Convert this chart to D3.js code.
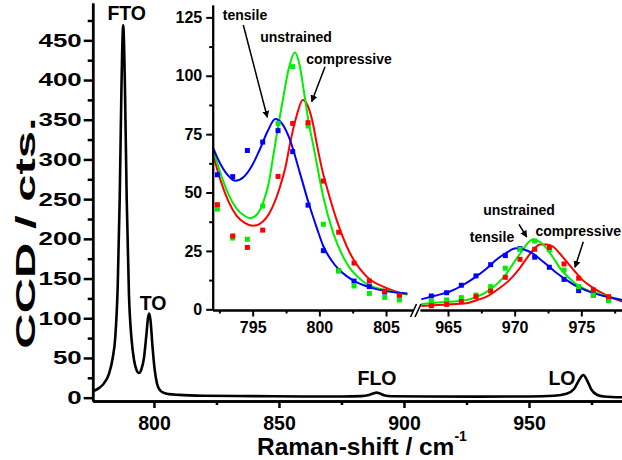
<!DOCTYPE html>
<html>
<head>
<meta charset="utf-8">
<script src="https://cdn.jsdelivr.net/npm/d3@7"></script>
<style>
  body { margin: 0; background: #fff; }
  text { font-family: "Liberation Sans", Arial, sans-serif; font-weight: bold; fill: #000; }
</style>
</head>
<body>
<div class="draw"></div>
<script>
const width = 622
const height = 460

// main spectrum, [Raman shift, counts]
const spectrum = [
  [775.5, 8], [778, 12], [780, 18], [782, 30], [783.5, 50], [784.5, 75], [785.5, 140],
  [786.3, 250], [787, 390], [787.7, 469], [788.4, 390], [789.1, 250], [790, 130],
  [791, 75], [792, 48], [793, 35], [794, 31], [795, 36], [796, 50], [797, 80],
  [797.6, 100], [798.1, 106], [798.6, 98], [799.4, 65], [800.3, 35], [801.2, 18],
  [802.5, 9], [804, 6], [806, 4.5], [810, 3.5], [820, 2.5], [840, 2], [860, 1.5],
  [875, 1.5], [883, 2], [886, 3.5], [888, 5.5], [889, 6.3], [890.2, 5.5], [892, 3],
  [895, 1.8], [910, 1.5], [930, 1.3], [950, 1.5], [960, 2.5], [965, 5], [968, 11],
  [970, 22], [971.7, 28.5], [973.5, 20], [975, 10], [977, 4], [980, 1.5], [987.2, 0.5]
]
const peakLabels = ["FTO", "TO", "FLO", "LO"]

// inset, left window (TO region)
const leftX = [792.35, 793.5, 794.6, 795.75, 796.9, 798.0, 799.15, 800.3, 801.45, 802.6, 803.75, 804.9, 806.0]
const leftTensile = [57.6, 56.8, 68, 71.6, 76.5, 67.5, 44.6, 25.1, 16.5, 12.1, 9.7, 7.4, 6.3]
const leftUnstrained = [42.9, 30.5, 30.0, 44.2, 79.6, 103.9, 78.5, 36.4, 16.5, 10, 6.8, 5.1, 4.0]
const leftCompressive = [44.8, 31.4, 26.5, 33.9, 56.9, 79.6, 79.9, 54.9, 33.0, 19.8, 12.1, 7.8, 6.0]

const leftFitTensile = [
  [792.0, 69.6], [792.6, 62], [793.2, 57], [793.7, 55], [794.3, 56.5], [794.9, 61], [795.5, 68],
  [796.1, 76], [796.7, 81.5], [797.2, 79.5], [797.8, 72.5], [798.55, 58.2], [799.2, 45.4],
  [799.8, 35], [800.3, 27], [800.9, 21], [801.5, 16.8], [802.1, 14], [802.7, 11.8],
  [803.8, 9.4], [804.8, 8.0], [806.6, 6.8]
]
const leftFitUnstrained = [
  [792.0, 69], [792.6, 58], [793.2, 49], [793.8, 43], [794.4, 40], [794.8, 39], [795.3, 40.5],
  [795.8, 46], [796.2, 54], [796.55, 66], [796.9, 78], [797.3, 91], [797.7, 103], [798.17, 110],
  [798.5, 105], [798.9, 91], [799.2, 80], [799.55, 70], [800.3, 48], [801.05, 32.5],
  [802.05, 19.7], [803.3, 11.8], [804.8, 8.4], [806.6, 6.5]
]
const leftFitCompressive = [
  [792.0, 67], [792.6, 55], [793.2, 46], [793.8, 40], [794.4, 37], [795.0, 35.8], [795.5, 36.5],
  [796.0, 39], [796.5, 44], [797.05, 52.5], [797.5, 62], [797.8, 71], [798.3, 83], [798.75, 89.6],
  [799.1, 87.5], [799.5, 80], [799.8, 71], [800.2, 60], [800.55, 52.5], [801.3, 38.2],
  [802.3, 24], [803.55, 14], [805.05, 9.1], [806.6, 6.3]
]

// inset, right window (LO region)
const rightX = [963.75, 964.9, 966.0, 967.1, 968.2, 969.3, 970.4, 971.5, 972.6, 973.7, 974.8, 975.9, 977.05]
const rightTensile = [5.7, 7.1, 10.3, 14.3, 19.1, 23, 26, 22.3, 18, 12.8, 8.0, 6.1, 4.3]
const rightUnstrained = [3.5, 4, 5, 6.1, 9.7, 17.6, 25.7, 29.2, 25.5, 16.8, 9.7, 6.1, 3.7]
const rightCompressive = [1.5, 2.1, 3.3, 5.4, 7.8, 13.7, 21.4, 25.7, 26.5, 19.4, 13.3, 8.3, 5.4]

const rightFitTensile = [
  [963.0, 4.3], [964.0, 5.8], [965.1, 7.5], [966.1, 10.3], [967.1, 14], [967.9, 17.5], [968.6, 21.1],
  [969.4, 24.3], [970.1, 26.1], [970.7, 25.6], [971.4, 23.7], [972.0, 21], [972.6, 18.2],
  [973.2, 15.3], [973.9, 12.5], [974.6, 10], [975.4, 8], [976.1, 6.6], [976.9, 5.4], [978.05, 4]
]
const rightFitUnstrained = [
  [963.0, 2.3], [964.5, 3], [966.4, 4], [967.2, 5.5], [967.9, 7.5], [968.7, 11], [969.4, 15.4],
  [970.0, 20.5], [970.6, 25.4], [971.0, 28.5], [971.4, 30], [971.9, 28.8], [972.4, 26.1],
  [972.9, 22], [973.4, 17.6], [974.0, 13.8], [974.6, 10.8], [975.4, 8.3], [976.4, 6.5], [978.05, 4]
]
const rightFitCompressive = [
  [963.0, 1.4], [964.7, 2], [966.4, 2.6], [967.2, 4], [967.9, 5.4], [968.8, 8.8], [969.6, 12.5],
  [970.3, 17], [970.9, 21.8], [971.4, 25.5], [971.9, 27.8], [972.4, 27.8], [972.9, 26.8],
  [973.4, 23.8], [973.9, 20.4], [974.5, 16.3], [975.1, 12.5], [975.8, 9.5], [976.6, 6.8], [978.05, 3.3]
]

const blue = "#0000ff"
const green = "#00ee00"
const red = "#ff0000"

let svg = d3.select("div.draw")
    .append("svg")
    .attr("width", width)
    .attr("height", height)

svg.append("defs").append("marker")
    .attr("id", "arrow")
    .attr("viewBox", "0 0 10 10")
    .attr("refX", 9).attr("refY", 5)
    .attr("markerWidth", 7).attr("markerHeight", 7)
    .attr("markerUnits", "userSpaceOnUse")
    .attr("orient", "auto")
  .append("path")
    .attr("d", "M0,0L10,5L0,10z")
    .attr("fill", "#000")

//MAIN SPECTRUM
const x = d3.scaleLinear().domain([775.5, 987.2]).range([92.7, 622])
const y = d3.scaleLinear().domain([-4.2, 497]).range([401, 3])

const line = d3.line()
    .x(d => x(d[0]))
    .y(d => y(d[1]))
    .curve(d3.curveMonotoneX)

svg.append("path")
    .datum(spectrum)
    .attr("d", line)
    .attr("fill", "none")
    .attr("stroke", "#000")
    .attr("stroke-width", 2.6)

function styleAxis(g, sw){
  g.select(".domain").attr("stroke-width", sw)
  g.selectAll(".tick line").attr("stroke-width", sw)
}

let xMajor = svg.append("g")
    .attr("transform", "translate(0,401)")
    .call(d3.axisBottom(x).tickValues([800, 850, 900, 950]).tickSize(7).tickSizeOuter(0).tickPadding(8))
xMajor.selectAll("text").style("font-size", "19.5px").attr("font-family", null)
styleAxis(xMajor, 2.5)
let xMinor = svg.append("g")
    .attr("transform", "translate(0,401)")
    .call(d3.axisBottom(x).tickValues([825, 875, 925, 975]).tickSize(4).tickSizeOuter(0).tickFormat(""))
styleAxis(xMinor, 2.5)

let yMajor = svg.append("g")
    .attr("transform", "translate(92.7,0)")
    .call(d3.axisLeft(y).tickValues(d3.range(0, 451, 50)).tickSize(9).tickSizeOuter(0))
yMajor.selectAll("text")
    .style("font-size", "18.6px")
    .attr("x", 0)
    .attr("transform", "translate(-11,0) scale(1.39,1)")
styleAxis(yMajor, 2.5)
let yMinor = svg.append("g")
    .attr("transform", "translate(92.7,0)")
    .call(d3.axisLeft(y).tickValues(d3.range(25, 480, 50)).tickSize(5).tickSizeOuter(0).tickFormat(""))
styleAxis(yMinor, 2.5)

svg.append("text")
    .attr("transform", "translate(35,233) rotate(-90) scale(1.75,1)")
    .attr("text-anchor", "middle")
    .style("font-size", "28px")
    .text("CCD / cts.")

let xTitle = svg.append("text")
    .attr("x", 257).attr("y", 455)
    .style("font-size", "24.5px")
xTitle.append("tspan").text("Raman-shift / cm")
xTitle.append("tspan").attr("dy", -14).style("font-size", "14px").text("-1")

const peakPos = [[126.7, 20], [153, 310], [377, 385], [562, 385]]
svg.selectAll("text.peak")
    .data(peakLabels)
    .enter()
    .append("text")
    .attr("class", "peak")
    .attr("x", (d, i) => peakPos[i][0])
    .attr("y", (d, i) => peakPos[i][1])
    .attr("text-anchor", "middle")
    .style("font-size", "19.5px")
    .text(d => d)

//INSET
const xl = d3.scaleLinear().domain([792, 807]).range([212.7, 412.7])
const xr = d3.scaleLinear().domain([962.9, 978.05]).range([420, 622])
const yi = d3.scaleLinear().domain([-0.3, 130.3]).range([310, 5])

function drawFits(fits, xs){
  let l = d3.line().x(d => xs(d[0])).y(d => yi(d[1])).curve(d3.curveMonotoneX)
  fits.forEach(([data, col]) => {
    svg.append("path")
        .datum(data)
        .attr("d", l)
        .attr("fill", "none")
        .attr("stroke", col)
        .attr("stroke-width", 2)
  })
}

function drawSquares(xv, series, xs){
  series.forEach(([vals, col]) => {
    svg.append("g").selectAll("rect")
        .data(vals.map((v, i) => [xv[i], v]))
        .enter()
        .append("rect")
        .attr("x", d => xs(d[0]) - 2.5)
        .attr("y", d => yi(d[1]) - 2.5)
        .attr("width", 5)
        .attr("height", 5)
        .attr("fill", col)
  })
}

drawFits([[leftFitCompressive, red], [leftFitUnstrained, green], [leftFitTensile, blue]], xl)
drawFits([[rightFitCompressive, red], [rightFitUnstrained, green], [rightFitTensile, blue]], xr)
drawSquares(leftX, [[leftTensile, blue], [leftUnstrained, green], [leftCompressive, red]], xl)
drawSquares(rightX, [[rightTensile, blue], [rightUnstrained, green], [rightCompressive, red]], xr)

function insetXAxis(scale, major, minor){
  let g = svg.append("g")
      .attr("transform", "translate(0,310)")
      .call(d3.axisBottom(scale).tickValues(major).tickSize(6.5).tickSizeOuter(0).tickPadding(5))
  g.selectAll("text").style("font-size", "16px")
  styleAxis(g, 2)
  let m = svg.append("g")
      .attr("transform", "translate(0,310)")
      .call(d3.axisBottom(scale).tickValues(minor).tickSize(3.5).tickSizeOuter(0).tickFormat(""))
  styleAxis(m, 2)
}
insetXAxis(xl, [795, 800, 805], [792.5, 797.5, 802.5])
insetXAxis(xr, [965, 970, 975], [967.5, 972.5, 977.5])

let yiMajor = svg.append("g")
    .attr("transform", "translate(212.7,0)")
    .call(d3.axisLeft(yi).tickValues([0, 25, 50, 75, 100, 125]).tickSize(6.5).tickSizeOuter(0).tickPadding(4))
yiMajor.selectAll("text").style("font-size", "16px")
styleAxis(yiMajor, 2)
let yiMinor = svg.append("g")
    .attr("transform", "translate(212.7,0)")
    .call(d3.axisLeft(yi).tickValues([12.5, 37.5, 62.5, 87.5, 112.5]).tickSize(3.5).tickSizeOuter(0).tickFormat(""))
styleAxis(yiMinor, 2)

// axis break
svg.append("g")
    .selectAll("line")
    .data([0, 4.5])
    .enter()
    .append("line")
    .attr("x1", d => 410.5 + d).attr("y1", 317)
    .attr("x2", d => 416.5 + d).attr("y2", 304)
    .attr("stroke", "#000")
    .attr("stroke-width", 1.6)

// inset labels and arrows
const insetNotes = [
  {t: "tensile", x: 245, y: 20, a: "middle"},
  {t: "unstrained", x: 296, y: 42, a: "middle"},
  {t: "compressive", x: 349, y: 64, a: "middle"},
  {t: "unstrained", x: 519, y: 215, a: "middle"},
  {t: "tensile", x: 492, y: 242, a: "middle"},
  {t: "compressive", x: 535.5, y: 236, a: "start"}
]
svg.selectAll("text.note")
    .data(insetNotes)
    .enter()
    .append("text")
    .attr("class", "note")
    .attr("x", d => d.x)
    .attr("y", d => d.y)
    .attr("text-anchor", d => d.a)
    .style("font-size", "14px")
    .text(d => d.t)

const arrows = [
  [243.3, 25, 267.3, 117.3],
  [325, 66.7, 311.7, 101.7],
  [519, 224.3, 526.7, 237],
  [583.3, 241.7, 575, 267.3]
]
svg.selectAll("line.arrow")
    .data(arrows)
    .enter()
    .append("line")
    .attr("class", "arrow")
    .attr("x1", d => d[0]).attr("y1", d => d[1])
    .attr("x2", d => d[2]).attr("y2", d => d[3])
    .attr("stroke", "#000")
    .attr("stroke-width", 1.5)
    .attr("marker-end", "url(#arrow)")
</script>
</body>
</html>
